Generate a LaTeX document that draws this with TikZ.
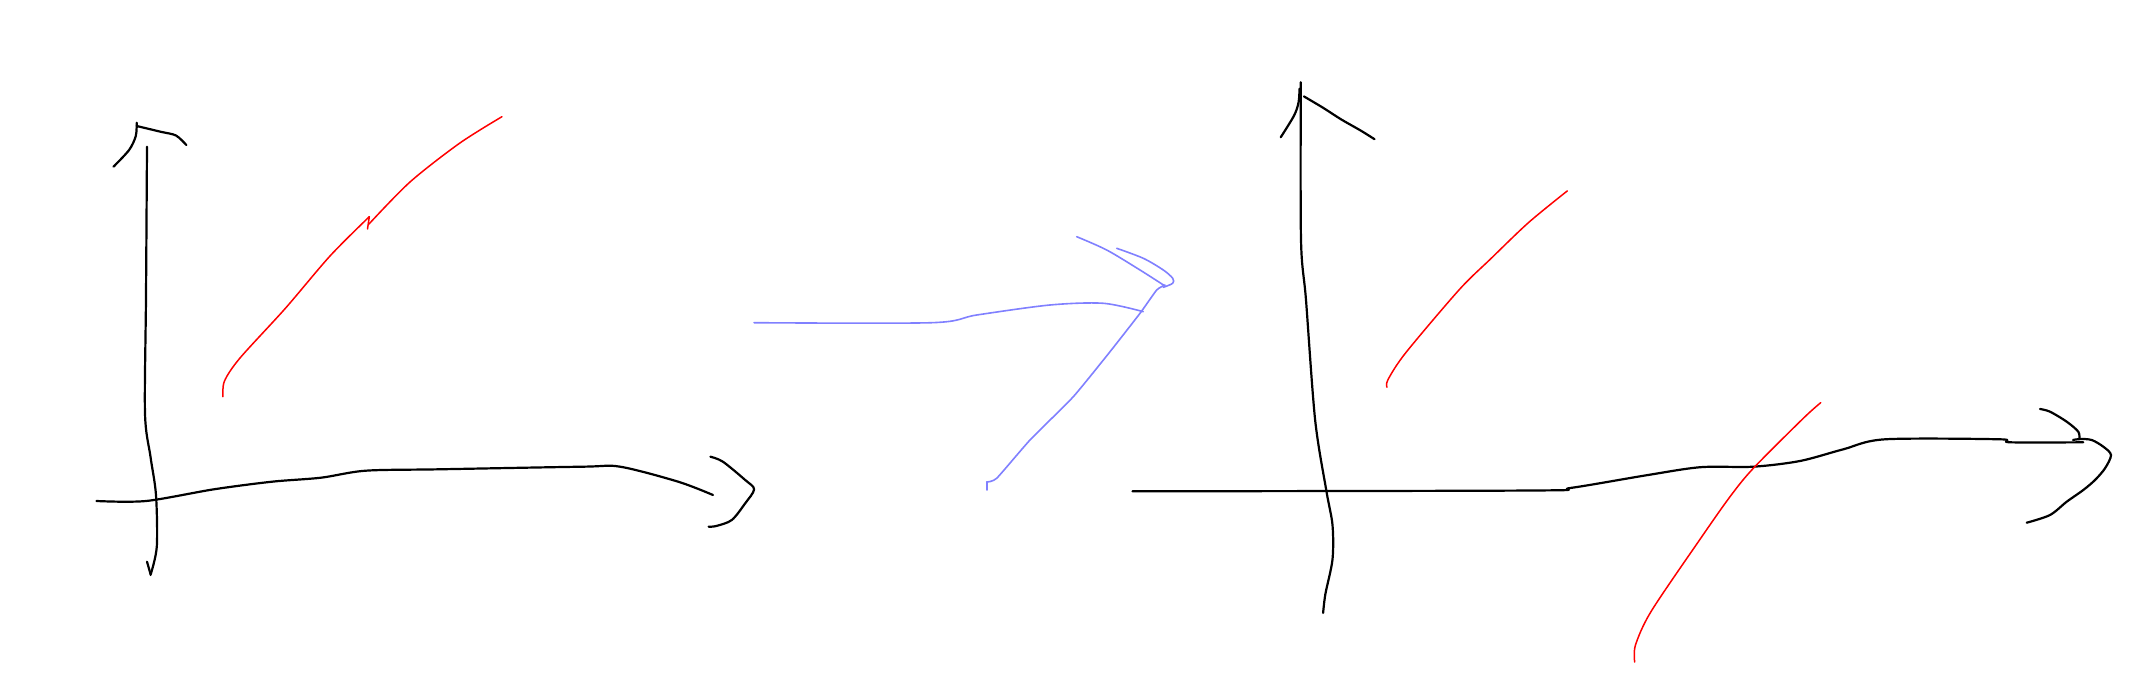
\documentclass[tikz,border=0pt]{standalone}
\definecolor{sketchred}{RGB}{255,0,0}
\definecolor{sketchblue}{RGB}{128,128,255}
\begin{document}
\begin{tikzpicture}[x=1pt,y=-1pt,
  ink/.style={draw=black,line width=2.2pt,line join=round,line cap=round},
  redink/.style={draw=sketchred,line width=1.5pt,line join=round,line cap=round},
  blueink/.style={draw=sketchblue,line width=1.6pt,line join=round,line cap=round}]
\useasboundingbox[fill=white] (0,0) rectangle (2150,698);
% ---------- left plot ----------
\draw[ink] plot[smooth,tension=0.5] coordinates {(147,146.7) (146,296.7) (145,413.3) (150.5,456.7) (156,495) (156.8,546.7) (150.5,575)};
\draw[ink] (147,561.7) -- (150.5,574);
\draw[ink] plot[smooth,tension=0.5] coordinates {(113.5,166.7) (129.1,150) (135.8,136) (136.7,122.7)};
\draw[ink] plot[smooth,tension=0.5] coordinates {(136.7,126) (160.4,131.7) (176,135.5) (186.3,145)};
\draw[ink] plot[smooth,tension=0.5] coordinates {(96.5,501) (146.1,501) (213.9,489.3) (272,481.7) (321,477.7) (365.7,470.7) (439.4,469.3) (582.2,466.7) (620.2,466.7) (678.2,481.7) (713,495)};
\draw[ink] plot[smooth,tension=0.5] coordinates {(710.4,456.7) (722.9,461.7) (745.2,480) (754.1,489.3) (745.2,503.3) (731.8,520) (716.2,526) (708.6,526.7)};
\draw[redink] plot[smooth,tension=0.5] coordinates {(222.9,396.7) (224.5,381) (240,358) (285.4,308.3) (330,256) (369.3,216.7)};
\draw[redink] (369.3,216.7) -- (367.5,229);
\draw[redink] plot[smooth,tension=0.5] coordinates {(369,224) (410,182) (459.5,143.3) (501.9,116.7)};
% ---------- blue arrow ----------
\draw[blueink] plot[smooth,tension=0.5] coordinates {(754,322.7) (931.7,322.7) (976.7,315) (1050,305) (1103.3,303.3) (1143.3,311.7)};
\draw[blueink] plot[smooth,tension=0.3] coordinates {(986.7,482) (996.7,478.3) (1030,440) (1073.3,396.7) (1110,351.7) (1140,313.3) (1156.7,290) (1165,285)};
\draw[blueink] (986.7,490) -- (986.7,482);
\draw[blueink] plot[smooth,tension=0.5] coordinates {(1076.7,236.7) (1106.7,250) (1140,270) (1165,286)};
\draw[blueink] plot[smooth,tension=0.5] coordinates {(1116.7,248.3) (1143.3,258.3) (1163.3,270) (1172.7,278.3) (1172.7,283.3) (1163.3,287.3)};
% ---------- right plot ----------
\draw[ink] plot[smooth,tension=0.5] coordinates {(1300.8,82.2) (1301,240) (1306,300) (1315.1,419.7) (1326.3,490.5) (1332.5,525) (1332.5,559.4) (1325.4,593.9) (1323.1,613)};
\draw[ink] plot[smooth,tension=0.5] coordinates {(1280.7,137.3) (1294.1,115.5) (1298.6,102.1) (1299.5,88.7)};
\draw[ink] plot[smooth,tension=0.5] coordinates {(1303.9,96.4) (1323.1,107.8) (1341,119.3) (1361.1,130.8) (1374.5,139.2)};
\draw[ink] plot[smooth,tension=0.5] coordinates {(1132.5,491.3) (1533,490.5) (1570.9,487.9) (1646.8,475.2) (1700.4,467.2) (1753.3,466.7) (1800,461) (1843.3,449.3) (1885,439.3) (2000,439.3) (2010,442.3) (2083.3,442.3)};
\draw[ink] plot[smooth,tension=0.5] coordinates {(2040,409) (2050,411.7) (2066.7,421.7) (2078.3,431.7) (2079.3,439.3)};
\draw[ink] plot[smooth,tension=0.5] coordinates {(2073,440) (2080,439) (2091.7,440) (2103.3,446.7) (2111,455) (2105,468.3) (2095,480) (2083.3,490) (2066.7,501.7) (2050,515) (2026.7,522.7)};
\draw[redink] plot[smooth,tension=0.5] coordinates {(1387,387.2) (1388,379.6) (1405.7,352.8) (1459.3,289.6) (1490.5,259) (1528.5,222.6) (1567.3,190.9)};
\draw[redink] plot[smooth,tension=0.5] coordinates {(1634.7,662) (1635.5,645) (1651.3,611.1) (1700,539.3) (1730,496.7) (1753.3,468.3) (1803.3,418.3) (1820.7,402.7)};
\end{tikzpicture}
\end{document}
